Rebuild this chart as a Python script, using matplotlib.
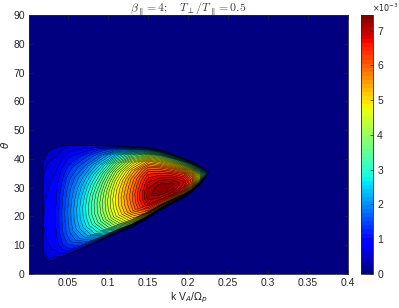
import numpy as np
import matplotlib
matplotlib.use("Agg")
import matplotlib.pyplot as plt
from matplotlib import colors

# ---------------- data ----------------
# columns of the unstable region (k V_A / Omega_p)
k_cols = [0.019, 0.025, 0.035, 0.05, 0.07, 0.09, 0.11, 0.13, 0.15, 0.165,
          0.18, 0.195, 0.205, 0.215, 0.222, 0.226]
# lower / upper edge of the unstable region (theta, degrees) for each column
theta_low = [6.5, 4.4, 5.4, 7.0, 9.3, 11.6, 14.1, 16.3, 19.3, 22.0,
             24.3, 26.5, 28.5, 31.0, 33.5, 35.2]
theta_high = [39.0, 42.5, 44.0, 44.5, 44.5, 44.5, 44.5, 44.3, 44.0, 43.2,
              41.8, 40.3, 39.0, 37.5, 36.3, 35.6]
# fractional position across the band (0 = lower edge, 1 = upper edge)
band_frac = [0, 0.04, 0.1, 0.2, 0.3, 0.4, 0.5, 0.6, 0.7, 0.8, 0.9, 0.96, 1]
# growth rate (x 1e-3), one list per k column, along band_frac
gamma_e3 = [
    [0.44, 0.56, 0.65, 0.71, 0.74, 0.74, 0.73, 0.71, 0.67, 0.61, 0.52, 0.44, 0.41],
    [0.48, 0.60, 0.70, 0.77, 0.80, 0.80, 0.79, 0.77, 0.72, 0.66, 0.56, 0.48, 0.44],
    [0.48, 0.67, 0.81, 0.90, 0.95, 0.95, 0.93, 0.89, 0.83, 0.73, 0.59, 0.48, 0.43],
    [0.68, 1.05, 1.36, 1.60, 1.68, 1.70, 1.65, 1.55, 1.39, 1.17, 0.88, 0.68, 0.56],
    [0.81, 1.49, 2.05, 2.48, 2.67, 2.70, 2.59, 2.38, 2.08, 1.67, 1.19, 0.81, 0.59],
    [0.56, 2.06, 2.93, 3.49, 3.71, 3.75, 3.64, 3.38, 3.00, 2.44, 1.69, 1.13, 0.56],
    [0.49, 2.84, 4.02, 4.66, 4.85, 4.90, 4.80, 4.56, 4.17, 3.53, 2.45, 1.47, 0.39],
    [0.30, 3.57, 5.06, 5.71, 5.89, 5.95, 5.83, 5.65, 5.24, 4.52, 3.27, 1.79, 0.24],
    [0.22, 3.96, 6.05, 6.91, 7.20, 7.13, 6.91, 6.62, 6.12, 5.26, 3.74, 2.02, 0.22],
    [0.15, 3.73, 5.96, 7.00, 7.45, 7.38, 7.08, 6.63, 5.96, 4.99, 3.58, 1.86, 0.15],
    [0.15, 3.33, 5.77, 6.96, 7.33, 7.33, 7.03, 6.51, 5.77, 4.74, 3.33, 1.63, 0.15],
    [0.14, 2.76, 4.97, 6.21, 6.76, 6.90, 6.62, 6.14, 5.38, 4.28, 2.90, 1.38, 0.14],
    [0.12, 2.40, 4.32, 5.40, 5.88, 6.00, 5.76, 5.34, 4.68, 3.72, 2.52, 1.20, 0.12],
    [0.08, 1.47, 2.73, 3.65, 4.07, 4.20, 4.07, 3.70, 3.15, 2.44, 1.60, 0.76, 0.08],
    [0.04, 0.63, 1.17, 1.57, 1.75, 1.80, 1.75, 1.58, 1.35, 1.04, 0.68, 0.32, 0.04],
    [0.01, 0.10, 0.20, 0.26, 0.29, 0.30, 0.29, 0.26, 0.23, 0.17, 0.11, 0.05, 0.01],
]
gamma_max = 7.45
x_ticks = [0.05, 0.1, 0.15, 0.2, 0.25, 0.3, 0.35, 0.4]
x_ticklabels = ["0.05", "0.1", "0.15", "0.2", "0.25", "0.3", "0.35", "0.4"]
y_ticks = [0, 10, 20, 30, 40, 50, 60, 70, 80, 90]
cbar_ticks = [0, 1, 2, 3, 4, 5, 6, 7]

# ---------------- grid ----------------
k = np.array(k_cols)
L = np.array(theta_low)
U = np.array(theta_high)
f = np.array(band_frac)
Z = np.array(gamma_e3).T

# zero border just outside the unstable region
fp = np.concatenate([[-0.012], f, [1.012]])
kp = np.concatenate([[k[0] - 0.0012], k, [k[-1] + 0.002]])
Lp = np.concatenate([[L[0]], L, [L[-1]]])
Up = np.concatenate([[U[0]], U, [U[-1]]])
Zp = np.pad(Z, 1)
X = np.broadcast_to(kp[None, :], (len(fp), len(kp)))
Y = Lp[None, :] + fp[:, None] * (Up - Lp)[None, :]

# ---------------- figure ----------------
fig = plt.figure(figsize=(3.99, 3.08), dpi=100)
plt.rcParams['font.family'] = ['Liberation Sans', 'DejaVu Sans']
ax = fig.add_axes([29 / 399, 34 / 308, 319 / 399, 259 / 308])
cmap = plt.get_cmap('jet')
ax.set_facecolor(cmap(0.0))

levels = np.linspace(0, gamma_max + 0.001, 41)
norm = colors.Normalize(0, gamma_max)
ax.contourf(X, Y, Zp, levels=levels, cmap=cmap, norm=norm)
ax.contour(X, Y, Zp, levels=levels[1:], colors='k', linewidths=0.3)

ax.set_xlim(0.001, 0.4)
ax.set_ylim(0, 90)
ax.set_xticks(x_ticks)
ax.set_xticklabels(x_ticklabels)
ax.set_yticks(y_ticks)
ax.tick_params(direction='in', length=3, width=0.5, colors='0.15',
               labelsize=7.5, top=True, right=True, pad=3)
for s in ax.spines.values():
    s.set_color('0.15')
    s.set_linewidth(0.6)

ax.set_title(r'$\beta_{\parallel} = 4;\quad T_{\perp}/T_{\parallel} = 0.5$',
             fontsize=8.5, color='0.25', math_fontfamily='cm', pad=2)
ax.set_xlabel(r'k V$_A$/$\Omega_p$', fontsize=7.5, color='0.15',
              math_fontfamily='dejavusans', labelpad=2)
ax.set_ylabel(r'$\theta$', fontsize=7.5, color='0.15',
              math_fontfamily='dejavusans')
ax.yaxis.set_label_coords(-0.055, 0.5)

cax = fig.add_axes([361 / 399, 34 / 308, 12 / 399, 259 / 308])
sm = plt.cm.ScalarMappable(norm=norm, cmap=plt.get_cmap('jet', 64))
cb = fig.colorbar(sm, cax=cax)
cb.set_ticks(cbar_ticks)
cb.ax.tick_params(direction='in', length=2.5, width=0.5, colors='0.15',
                  labelsize=7.5, pad=3)
cb.outline.set_edgecolor('0.15')
cb.outline.set_linewidth(0.6)
fig.text(372 / 399, 1 - 8 / 308, r'$\times10^{-3}$', fontsize=5.8,
         color='0.15', va='center', ha='left', math_fontfamily='dejavusans')

fig.savefig('out.png', dpi=100)
